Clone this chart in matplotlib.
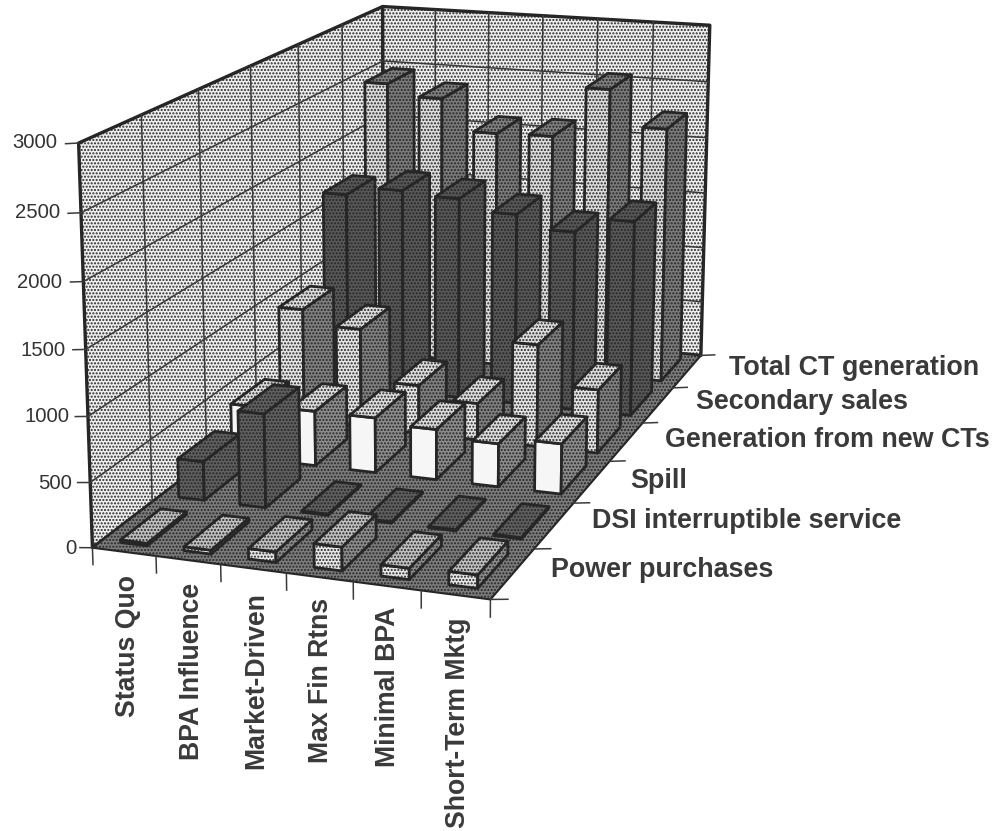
import numpy as np
import matplotlib
matplotlib.use("Agg")
import matplotlib.pyplot as plt
from mpl_toolkits.mplot3d.art3d import Poly3DCollection

plt.rcParams['font.family'] = ['Liberation Sans', 'DejaVu Sans']
plt.rcParams['hatch.linewidth'] = 1.0
plt.rcParams['hatch.color'] = '#333333'

#%% Data
categories = ['Status Quo', 'BPA Influence', 'Market-Driven', 'Max Fin Rtns', 'Minimal BPA', 'Short-Term Mktg']
series = ['Power purchases', 'DSI interruptible service', 'Spill', 'Generation from new CTs', 'Secondary sales', 'Total CT generation']
power = [20, 30, 80, 180, 85, 100]
dsi = [310, 745, 10, 10, 10, 10]
spill = [435, 450, 450, 410, 350, 405]
newct = [960, 840, 410, 310, 855, 530]
secondary = [1700, 1775, 1745, 1650, 1540, 1670]
total = [2470, 2370, 2095, 2105, 2550, 2240]
values = [power, dsi, spill, newct, secondary, total]
z_ticks = [0, 500, 1000, 1500, 2000, 2500, 3000]

#%% Figure and camera
W, H = 994, 831
fig = plt.figure(figsize=(W/100, H/100), dpi=100)
s, tx, ty = 4927.4, 429.2, 568.3
L = s*0.185
ax = fig.add_axes([(tx-0.095*s)/W, (ty-0.095*s)/H, L/W, L/H], projection='3d', computed_zorder=False)
ax.view_init(elev=14.8176, azim=-70.8504)
ax.set_proj_type('persp', focal_length=0.5445)
ax.set_box_aspect((0.8378, 1.7016, 0.829))
ax.set_xlim(0, 6); ax.set_ylim(0, 6); ax.set_zlim(0, 3000)
ax.set_axis_off()

zo = [1]
def face(verts, fc, hatch, lw=2.0):
    poly = Poly3DCollection([verts], facecolors=fc, edgecolors='#262626', linewidths=lw, hatch=hatch)
    poly.set_zorder(zo[0]); zo[0] += 1
    ax.add_collection3d(poly, autolim=False)

#%% Walls and floor
face([(0,0,0),(0,6,0),(0,6,3000),(0,0,3000)], '#eeeeee', '.....', lw=2.4)
face([(0,6,0),(6,6,0),(6,6,3000),(0,6,3000)], '#eeeeee', '.....', lw=2.4)
face([(0,0,0),(6,0,0),(6,6,0),(0,6,0)], '#7c7c7c', '.....', lw=1.5)

line = dict(color='#3a3a3a', lw=1.1)
for z in z_ticks:
    ax.plot([-0.2,0],[0,0],[z-12,z], zorder=zo[0], **line)
    if 0 < z < 3000:
        ax.plot([0,0,6],[0,6,6],[z,z,z], zorder=zo[0], **line)
for k in range(1,6):
    ax.plot([0,0],[k,k],[0,3000], zorder=zo[0], **line)
    ax.plot([k,k],[6,6],[0,3000], zorder=zo[0], **line)
for k in range(7):
    ax.plot([k,k],[0,0],[0,-130], zorder=zo[0], **line)
    ax.plot([6,6.25],[k,k],[0,18], zorder=zo[0], **line)
zo[0] += 1

#%% Bars: (fill, dots) for front, side and top of each series
styles = [(('#e6e6e6','.....'),('#8c8c8c','.....'),('#c0c0c0','.....')),
          (('#606060','.....'),('#606060','.....'),('#606060','.....')),
          (('#f6f6f6',''),('#8c8c8c','.....'),('#dcdcdc','.....')),
          (('#e4e4e4','.....'),('#808080','.....'),('#dddddd','.....')),
          (('#585858','.....'),('#585858','.....'),('#585858','.....')),
          (('#dcdcdc','.....'),('#7a7a7a','.....'),('#808080','.....'))]
bw, bd = 0.42, 0.68
for r in range(5,-1,-1):
    for k in range(6):
        x0, x1 = k+0.5-bw/2, k+0.5+bw/2
        y0, y1 = r+0.5-bd/2, r+0.5+bd/2
        v = values[r][k]
        st = styles[r]
        face([(x0,y0,0),(x1,y0,0),(x1,y0,v),(x0,y0,v)], *st[0])
        face([(x1,y0,0),(x1,y1,0),(x1,y1,v),(x1,y0,v)], *st[1])
        face([(x0,y0,v),(x1,y0,v),(x1,y1,v),(x0,y1,v)], *st[2])

#%% Text
tick_x = [76, 72, 69, 66, 62, 60, 57]
tick_y = [548, 483, 416, 350, 283, 213, 143]
for z, x, y in zip(z_ticks, tick_x, tick_y):
    fig.text(x/W, 1-y/H, str(z), ha='right', va='center', fontsize=14.6, color='#333333')
cat_x = [128, 192, 256, 321, 388, 458]
cat_y = [575, 583, 592, 598, 607, 617]
for name, x, y in zip(categories, cat_x, cat_y):
    fig.text(x/W, 1-y/H, name, rotation=90, ha='center', va='top', fontsize=19.2, fontweight='bold', color='#3a3a3a')
ser_x = [551, 592, 630, 665, 696, 729]
ser_y = [570, 521, 481, 440, 402, 368]
for name, x, y in zip(series, ser_x, ser_y):
    fig.text(x/W, 1-y/H, name, ha='left', va='center', fontsize=19.4, fontweight='bold', color='#3a3a3a')

fig.savefig('out.png', dpi=100)
